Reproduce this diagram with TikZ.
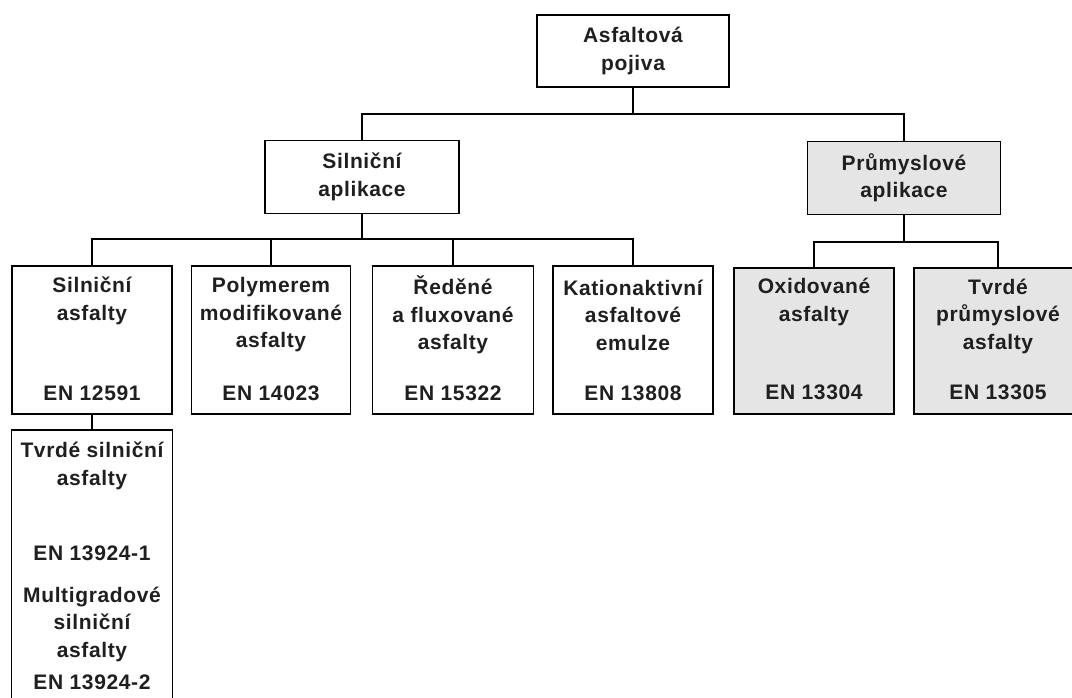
\documentclass[tikz,border=0pt]{standalone}
\usepackage{fontspec}
\usepackage{xcolor}
\usepackage{tikz}
\newfontfamily\boxfont{Liberation Sans}[LetterSpace=3]
\definecolor{boxgray}{gray}{0.90}

\tikzset{
  box/.style={draw=black, line width=1.6pt, fill=white, inner sep=0pt},
  graybox/.style={box, fill=boxgray},
  txt/.style={align=center, inner sep=0pt, font=\boxfont\bfseries\fontsize{21}{27.5}\selectfont, text=black!88},
  link/.style={black, line width=1.4pt},
  trunk/.style={black, line width=2.6pt}
}

\begin{document}
\begin{tikzpicture}[x=1pt, y=-1pt]
                \useasboundingbox (0,0) rectangle (1072,698);
                \clip (0,0) rectangle (1072,698);

                %% top
                \node[box, txt, minimum width=192pt, minimum height=72pt] (pojiva) at (633,51) {Asfaltová\\pojiva};

                %% applications
                \node[box, txt, minimum width=194pt, minimum height=73pt] (silapl) at (362,177) {Silniční\\aplikace};
                \node[graybox, txt, minimum width=193pt, minimum height=73pt] (prumapl) at (904,178) {Průmyslové\\aplikace};

                %% road binders
                \node[box, minimum width=160pt, minimum height=148pt] (silasf) at (92,340) {};
                \node[box, minimum width=159pt, minimum height=148pt] (polmod) at (271,340) {};
                \node[box, minimum width=161pt, minimum height=148pt] (redene) at (453,340) {};
                \node[box, minimum width=160pt, minimum height=148pt] (kation) at (633,340) {};

                \node[txt] (silasf-t) at (92,301) {Silniční\\asfalty};
                \node[txt] (polmod-t) at (271,315) {Polymerem\\modifikované\\asfalty};
                \node[txt] (redene-t) at (453,315) {Ředěné\\a fluxované\\asfalty};
                \node[txt] (kation-t) at (633,315) {Kationaktivní\\asfaltové\\emulze};

                \node[txt] (silasf-en) at (92,393) {EN 12591};
                \node[txt] (polmod-en) at (271,393) {EN 14023};
                \node[txt] (redene-en) at (453,393) {EN 15322};
                \node[txt] (kation-en) at (633,393) {EN 13808};

                %% industrial binders
                \node[graybox, minimum width=160pt, minimum height=146pt] (oxid) at (814,341) {};
                \node[graybox, minimum width=168pt, minimum height=146pt] (tvrdprum) at (998,341) {};

                \node[txt] (oxid-t) at (814,302) {Oxidované\\asfalty};
                \node[txt] (tvrdprum-t) at (998,316) {Tvrdé\\průmyslové\\asfalty};
                \node[txt] (oxid-en) at (814,392) {EN 13304};
                \node[txt] (tvrdprum-en) at (998,392) {EN 13305};

                %% hard and multigrade
                \node[box, minimum width=161pt, minimum height=290pt] (tvrdsil) at (92,575) {};
                \node[txt] (tvrdsil-t) at (92,466) {Tvrdé silniční\\asfalty};
                \node[txt] (tvrdsil-en) at (92,553) {EN 13924-1};
                \node[txt] (multi-t) at (92,624) {Multigradové\\silniční\\asfalty};
                \node[txt] (multi-en) at (92,682) {EN 13924-2};

                %% connectors
                \coordinate (j1) at (633,114);
                \coordinate (j2) at (362,239);
                \coordinate (j3) at (904,242);

                \draw[link] (pojiva.south) -- (j1);
                \draw[link] (silapl.north) |- (j1) -| (prumapl.north);

                \draw[trunk] (silapl.south) -- (j2);
                \draw[link] (silasf.north) |- (j2) -| (kation.north);
                \draw[link] (polmod.north) -- (polmod.north |- j2);
                \draw[link] (redene.north) -- (redene.north |- j2);

                \draw[trunk] (prumapl.south) -- (j3);
                \draw[link] (oxid.north) |- (j3) -| (tvrdprum.north);

                \draw[link] (silasf.south) -- (tvrdsil.north);

            \end{tikzpicture}
\end{document}
